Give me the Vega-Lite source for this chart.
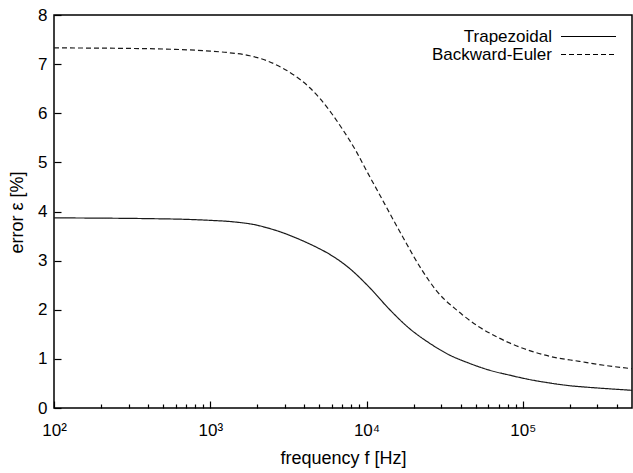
{
  "$schema": "https://vega.github.io/schema/vega-lite/v6.json",
  "width": 578,
  "height": 393,
  "autosize": "none",
  "padding": {"left": 54, "top": 15, "right": 1, "bottom": 65},
  "background": "white",
  "config": {
    "view": {"stroke": "black", "strokeWidth": 1.5},
    "font": "Liberation Sans"
  },
  "data": {
    "values": [
      {"method": "Trapezoidal", "f": 100, "e": 3.87},
      {"method": "Trapezoidal", "f": 200, "e": 3.865},
      {"method": "Trapezoidal", "f": 400, "e": 3.855},
      {"method": "Trapezoidal", "f": 700, "e": 3.84},
      {"method": "Trapezoidal", "f": 1000, "e": 3.82},
      {"method": "Trapezoidal", "f": 1400, "e": 3.79},
      {"method": "Trapezoidal", "f": 2000, "e": 3.72},
      {"method": "Trapezoidal", "f": 2300, "e": 3.67},
      {"method": "Trapezoidal", "f": 2900, "e": 3.57},
      {"method": "Trapezoidal", "f": 3800, "e": 3.42},
      {"method": "Trapezoidal", "f": 4800, "e": 3.27},
      {"method": "Trapezoidal", "f": 5800, "e": 3.13},
      {"method": "Trapezoidal", "f": 7800, "e": 2.84},
      {"method": "Trapezoidal", "f": 10400, "e": 2.46},
      {"method": "Trapezoidal", "f": 14000, "e": 2.01},
      {"method": "Trapezoidal", "f": 18800, "e": 1.62},
      {"method": "Trapezoidal", "f": 25300, "e": 1.32},
      {"method": "Trapezoidal", "f": 33900, "e": 1.08},
      {"method": "Trapezoidal", "f": 45500, "e": 0.91},
      {"method": "Trapezoidal", "f": 61100, "e": 0.77},
      {"method": "Trapezoidal", "f": 82000, "e": 0.67},
      {"method": "Trapezoidal", "f": 110000, "e": 0.58},
      {"method": "Trapezoidal", "f": 148000, "e": 0.51},
      {"method": "Trapezoidal", "f": 198000, "e": 0.455},
      {"method": "Trapezoidal", "f": 266000, "e": 0.42},
      {"method": "Trapezoidal", "f": 380000, "e": 0.385},
      {"method": "Trapezoidal", "f": 500000, "e": 0.36},
      {"method": "Backward-Euler", "f": 100, "e": 7.33},
      {"method": "Backward-Euler", "f": 300, "e": 7.32},
      {"method": "Backward-Euler", "f": 600, "e": 7.3},
      {"method": "Backward-Euler", "f": 1000, "e": 7.265},
      {"method": "Backward-Euler", "f": 1300, "e": 7.235},
      {"method": "Backward-Euler", "f": 1790, "e": 7.17},
      {"method": "Backward-Euler", "f": 2300, "e": 7.07},
      {"method": "Backward-Euler", "f": 2900, "e": 6.92},
      {"method": "Backward-Euler", "f": 3500, "e": 6.76},
      {"method": "Backward-Euler", "f": 4300, "e": 6.53},
      {"method": "Backward-Euler", "f": 5000, "e": 6.31},
      {"method": "Backward-Euler", "f": 6000, "e": 5.99},
      {"method": "Backward-Euler", "f": 7000, "e": 5.68},
      {"method": "Backward-Euler", "f": 8500, "e": 5.25},
      {"method": "Backward-Euler", "f": 10000, "e": 4.83},
      {"method": "Backward-Euler", "f": 12000, "e": 4.37},
      {"method": "Backward-Euler", "f": 13400, "e": 4.09},
      {"method": "Backward-Euler", "f": 15500, "e": 3.72},
      {"method": "Backward-Euler", "f": 18000, "e": 3.35},
      {"method": "Backward-Euler", "f": 20000, "e": 3.09},
      {"method": "Backward-Euler", "f": 22500, "e": 2.82},
      {"method": "Backward-Euler", "f": 25000, "e": 2.6},
      {"method": "Backward-Euler", "f": 28000, "e": 2.39},
      {"method": "Backward-Euler", "f": 32000, "e": 2.19},
      {"method": "Backward-Euler", "f": 36000, "e": 2.05},
      {"method": "Backward-Euler", "f": 41000, "e": 1.9},
      {"method": "Backward-Euler", "f": 52000, "e": 1.66},
      {"method": "Backward-Euler", "f": 67000, "e": 1.46},
      {"method": "Backward-Euler", "f": 85000, "e": 1.305},
      {"method": "Backward-Euler", "f": 109000, "e": 1.175},
      {"method": "Backward-Euler", "f": 150000, "e": 1.05},
      {"method": "Backward-Euler", "f": 230000, "e": 0.95},
      {"method": "Backward-Euler", "f": 330000, "e": 0.87},
      {"method": "Backward-Euler", "f": 500000, "e": 0.8}
    ]
  },
  "mark": {"type": "line", "color": "#1a1a1a", "strokeWidth": 1.2, "interpolate": "monotone"},
  "encoding": {
    "x": {
      "field": "f",
      "type": "quantitative",
      "scale": {"type": "log", "domain": [100, 500000], "nice": false},
      "axis": {
        "values": [100, 200, 300, 400, 500, 600, 700, 800, 900, 1000, 2000, 3000, 4000, 5000, 6000, 7000, 8000, 9000, 10000, 20000, 30000, 40000, 50000, 60000, 70000, 80000, 90000, 100000, 200000, 300000, 400000],
        "labelExpr": "datum.value == 100 ? '10²' : datum.value == 1000 ? '10³' : datum.value == 10000 ? '10⁴' : datum.value == 100000 ? '10⁵' : ''",
        "tickSize": {"condition": {"test": "datum.value == 100 || datum.value == 1000 || datum.value == 10000 || datum.value == 100000", "value": -7}, "value": -4},
        "tickColor": "black",
        "tickWidth": 1.2,
        "domain": false,
        "grid": false,
        "labelFlush": false,
        "labelOverlap": false,
        "labelBound": false,
        "labelFontSize": 17,
        "labelColor": "black",
        "labelBaseline": "alphabetic",
        "labelPadding": 34,
        "title": "frequency f [Hz]",
        "titleFontSize": 18,
        "titleFontWeight": "normal",
        "titleColor": "black",
        "titleBaseline": "alphabetic",
        "titleY": 55
      }
    },
    "y": {
      "field": "e",
      "type": "quantitative",
      "scale": {"domain": [0, 8], "nice": false},
      "axis": {
        "values": [0, 1, 2, 3, 4, 5, 6, 7, 8],
        "tickSize": -7,
        "tickColor": "black",
        "tickWidth": 1.2,
        "domain": false,
        "grid": false,
        "labelFontSize": 17,
        "labelColor": "black",
        "labelPadding": 14,
        "labelBaseline": "middle",
        "labelFlush": false,
        "labelOverlap": false,
        "title": "error ε [%]",
        "titleFontSize": 18,
        "titleFontWeight": "normal",
        "titleColor": "black",
        "titleBaseline": "middle",
        "titleX": -37,
        "titleY": 197
      }
    },
    "strokeDash": {
      "field": "method",
      "type": "nominal",
      "scale": {"domain": ["Trapezoidal", "Backward-Euler"], "range": [[1, 0], [5, 3]]},
      "legend": {
        "title": null,
        "orient": "none",
        "legendX": 526,
        "legendY": 13,
        "padding": 0,
        "symbolType": "M-4,0H4",
        "symbolSize": 189,
        "symbolStrokeWidth": 1.2,
        "symbolStrokeColor": "black",
        "symbolFillColor": "transparent",
        "labelAlign": "right",
        "labelOffset": -45,
        "labelFontSize": 17,
        "labelColor": "black",
        "labelLimit": 0,
        "rowPadding": 0
      }
    }
  }
}
